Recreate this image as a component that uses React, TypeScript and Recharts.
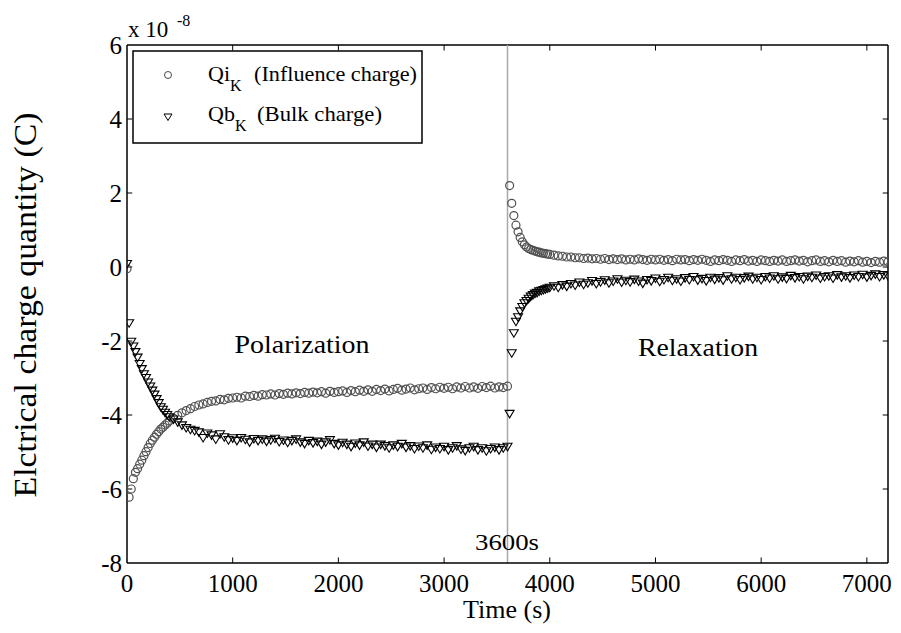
import React from "react";
import { ScatterChart, Scatter, XAxis, YAxis, ReferenceLine } from "recharts";

// polarization phase (0 - 3600 s)
const polTime = [
  0, 20, 40, 60, 80, 100, 120, 140, 160, 180,
  200, 220, 240, 260, 280, 300, 320, 340, 360, 380,
  400,
  440, 480, 520, 560, 600, 640, 680, 720, 760, 800,
  840, 880, 920, 960, 1000, 1040, 1080, 1120, 1160, 1200,
  1240, 1280, 1320, 1360, 1400, 1440, 1480, 1520, 1560, 1600,
  1640, 1680, 1720, 1760, 1800, 1840, 1880, 1920, 1960, 2000,
  2040, 2080, 2120, 2160, 2200, 2240, 2280, 2320, 2360, 2400,
  2440, 2480, 2520, 2560, 2600, 2640, 2680, 2720, 2760, 2800,
  2840, 2880, 2920, 2960, 3000, 3040, 3080, 3120, 3160, 3200,
  3240, 3280, 3320, 3360, 3400, 3440, 3480, 3520, 3560, 3600,
];
const qiPol = [
  -0.05, -6.22, -6.0, -5.72, -5.55, -5.45, -5.33, -5.22, -5.1, -4.99,
  -4.88, -4.77, -4.68, -4.6, -4.52, -4.45, -4.38, -4.33, -4.27, -4.22,
  -4.16,
  -4.09, -4.01, -3.94, -3.88, -3.83, -3.77, -3.73, -3.7, -3.66, -3.63,
  -3.62, -3.58, -3.59, -3.55, -3.54, -3.52, -3.54, -3.49, -3.5, -3.47,
  -3.49, -3.45, -3.46, -3.43, -3.46, -3.42, -3.44, -3.41, -3.43, -3.4,
  -3.42, -3.39, -3.41, -3.38, -3.4, -3.37, -3.41, -3.36, -3.39, -3.37,
  -3.35, -3.39, -3.34, -3.37, -3.33, -3.36, -3.32, -3.36, -3.31, -3.34,
  -3.3, -3.35, -3.31, -3.28, -3.33, -3.3, -3.27, -3.32, -3.29, -3.27,
  -3.31, -3.26, -3.29, -3.25, -3.28, -3.25, -3.29, -3.24, -3.27, -3.23,
  -3.27, -3.24, -3.28, -3.23, -3.26, -3.22, -3.27, -3.24, -3.26, -3.22,
];
const qbPol = [
  0.08, -1.52, -2.02, -2.15, -2.3, -2.45, -2.62, -2.76, -2.9, -3.0,
  -3.12, -3.23, -3.34, -3.45, -3.57, -3.68, -3.79, -3.86, -3.94, -4.0,
  -4.06,
  -4.12, -4.2, -4.28, -4.35, -4.4, -4.43, -4.47, -4.62, -4.5, -4.55,
  -4.66, -4.52, -4.6, -4.68, -4.63, -4.7, -4.62, -4.67, -4.74, -4.65,
  -4.7, -4.66, -4.72, -4.68, -4.64, -4.73, -4.69, -4.75, -4.7, -4.66,
  -4.74, -4.78, -4.7, -4.76, -4.72, -4.8, -4.74, -4.68, -4.78, -4.82,
  -4.75, -4.8, -4.86, -4.77, -4.82, -4.74, -4.85, -4.8, -4.88, -4.8,
  -4.84, -4.9, -4.82, -4.86, -4.78, -4.88, -4.84, -4.92, -4.85, -4.9,
  -4.82, -4.94, -4.88, -4.92, -4.86, -4.95, -4.9, -4.84, -4.93, -4.97,
  -4.9, -4.86, -4.95, -4.9, -4.98, -4.92, -4.88, -4.95, -4.9, -4.86,
];

// relaxation phase (3600 - 7200 s)
const relTime = [
  3620, 3640, 3660, 3680, 3700, 3720, 3740, 3760, 3780, 3800,
  3820, 3840, 3860, 3880, 3900, 3920, 3940, 3960, 3980, 4000,
  4040, 4080, 4120, 4160, 4200, 4240, 4280, 4320, 4360, 4400,
  4440, 4480, 4520, 4560, 4600, 4640, 4680, 4720, 4760, 4800,
  4840, 4880, 4920, 4960, 5000, 5040, 5080, 5120, 5160, 5200,
  5240, 5280, 5320, 5360, 5400, 5440, 5480, 5520, 5560, 5600,
  5640, 5680, 5720, 5760, 5800, 5840, 5880, 5920, 5960, 6000,
  6040, 6080, 6120, 6160, 6200, 6240, 6280, 6320, 6360, 6400,
  6440, 6480, 6520, 6560, 6600, 6640, 6680, 6720, 6760, 6800,
  6840, 6880, 6920, 6960, 7000, 7040, 7080, 7120, 7160, 7200,
];
const qiRel = [
  2.2, 1.72, 1.39, 1.13, 0.95, 0.8, 0.68, 0.6, 0.54, 0.5,
  0.47, 0.45, 0.43, 0.41, 0.4, 0.38, 0.37, 0.36, 0.35, 0.34,
  0.32, 0.3, 0.29, 0.27, 0.27, 0.25, 0.25, 0.23, 0.24, 0.22,
  0.23, 0.21, 0.23, 0.2, 0.22, 0.2, 0.22, 0.19, 0.21, 0.19,
  0.22, 0.2, 0.18, 0.21, 0.19, 0.21, 0.18, 0.2, 0.17, 0.21,
  0.19, 0.2, 0.17, 0.2, 0.18, 0.21, 0.18, 0.15, 0.19, 0.17,
  0.2, 0.18, 0.15, 0.19, 0.17, 0.2, 0.16, 0.18, 0.15, 0.19,
  0.17, 0.15, 0.18, 0.16, 0.19, 0.15, 0.17, 0.19, 0.16, 0.18,
  0.14, 0.17, 0.19, 0.15, 0.17, 0.14, 0.18, 0.15, 0.17, 0.13,
  0.16, 0.14, 0.17, 0.13, 0.15, 0.12, 0.15, 0.13, 0.16, 0.14,
];
const qbRel = [
  -3.97, -2.33, -1.79, -1.48, -1.36, -1.2, -1.08, -0.98, -0.92, -0.86,
  -0.8, -0.76, -0.72, -0.7, -0.66, -0.64, -0.62, -0.6, -0.58, -0.56,
  -0.52, -0.56, -0.49, -0.53, -0.46, -0.5, -0.42, -0.48, -0.44, -0.38,
  -0.46, -0.41, -0.36, -0.44, -0.39, -0.33, -0.42, -0.37, -0.41, -0.34,
  -0.39, -0.45, -0.35, -0.38, -0.31, -0.4, -0.35, -0.29, -0.37, -0.33,
  -0.39, -0.3, -0.35, -0.27, -0.36, -0.32, -0.38, -0.29, -0.34, -0.3,
  -0.36, -0.25, -0.33, -0.29, -0.35, -0.3, -0.26, -0.33, -0.29, -0.35,
  -0.27, -0.31, -0.25, -0.33, -0.28, -0.32, -0.24, -0.3, -0.27, -0.33,
  -0.26, -0.29, -0.23, -0.31, -0.27, -0.25, -0.31, -0.22, -0.28, -0.25,
  -0.3, -0.23, -0.27, -0.21, -0.28, -0.24, -0.2, -0.27, -0.22, -0.25,
];

const xTicks = [0, 1000, 2000, 3000, 4000, 5000, 6000, 7000];
const yTicks = [-8, -6, -4, -2, 0, 2, 4, 6];
const switchTime = 3600;

const qiData = [
  ...polTime.map((t, i) => ({ t, q: qiPol[i] })),
  ...relTime.map((t, i) => ({ t, q: qiRel[i] })),
];
const qbData = [
  ...polTime.map((t, i) => ({ t, q: qbPol[i] })),
  ...relTime.map((t, i) => ({ t, q: qbRel[i] })),
];

const W = 893;
const H = 625;
const serif = "'Liberation Serif', 'Times New Roman', serif";

const Circle = (props: any) => (
  <circle cx={props.cx} cy={props.cy} r={4} fill="none" stroke="#505050" strokeWidth={1.2} />
);

const Tri = (props: any) => {
  const { cx, cy } = props;
  return (
    <path
      d={`M${cx - 4.5},${cy - 3.5}L${cx + 4.5},${cy - 3.5}L${cx},${cy + 4}Z`}
      fill="none"
      stroke="#000"
      strokeWidth={1.1}
    />
  );
};

export default function App() {
  const tickStyle = { fontFamily: serif, fontSize: 25, fill: "#000" };
  return (
    <div style={{ position: "relative", width: W, height: H, background: "#fff" }}>
      <ScatterChart width={W} height={H} margin={{ top: 37, right: 13, bottom: 30, left: 0 }}>
        <XAxis
          type="number"
          dataKey="t"
          domain={[0, 7200]}
          ticks={xTicks}
          allowDataOverflow
          height={40}
          tickLine={false}
          tickSize={3}
          tickMargin={8}
          axisLine={{ stroke: "#000", strokeWidth: 1.5 }}
          tick={tickStyle}
        />
        <YAxis
          type="number"
          dataKey="q"
          domain={[-8, 6]}
          ticks={yTicks}
          allowDataOverflow
          width={119}
          tickLine={false}
          tickSize={3}
          tickMargin={2}
          axisLine={{ stroke: "#000", strokeWidth: 1.5 }}
          tick={tickStyle}
        />
        {/* box */}
        <ReferenceLine y={6} stroke="#000" strokeWidth={1.5} />
        <ReferenceLine x={7200} stroke="#000" strokeWidth={1.5} />
        {/* inward ticks */}
        {xTicks.filter((v) => v > 0).map((v) => (
          <ReferenceLine key={`xb${v}`} segment={[{ x: v, y: -8 }, { x: v, y: -7.85 }]} stroke="#000" />
        ))}
        {xTicks.filter((v) => v > 0).map((v) => (
          <ReferenceLine key={`xt${v}`} segment={[{ x: v, y: 6 }, { x: v, y: 5.85 }]} stroke="#000" />
        ))}
        {yTicks.filter((v) => v > -8 && v < 6).map((v) => (
          <ReferenceLine key={`yl${v}`} segment={[{ x: 0, y: v }, { x: 50, y: v }]} stroke="#000" />
        ))}
        {yTicks.filter((v) => v > -8 && v < 6).map((v) => (
          <ReferenceLine key={`yr${v}`} segment={[{ x: 7150, y: v }, { x: 7200, y: v }]} stroke="#000" />
        ))}
        <ReferenceLine x={switchTime} stroke="#a8a8a8" strokeWidth={1.5} />
        <Scatter data={qiData} shape={Circle} isAnimationActive={false} />
        <Scatter data={qbData} shape={Tri} isAnimationActive={false} />
      </ScatterChart>
      <svg
        width={W}
        height={H}
        style={{ position: "absolute", left: 0, top: 0, pointerEvents: "none" }}
        fontFamily={serif}
      >
        <text x={120} y={29} fontSize={23}>x 10</text>
        <text x={169} y={18} fontSize={16}>-8</text>
        <text
          transform="translate(17,297) rotate(-90)"
          textAnchor="middle"
          dominantBaseline="central"
          fontSize={31}
          textLength={385}
          lengthAdjust="spacingAndGlyphs"
        >
          Elctrical charge quantity (C)
        </text>
        <text x={499} y={610} textAnchor="middle" fontSize={26}>Time (s)</text>
        <text x={294} y={345} textAnchor="middle" fontSize={25} textLength={135} lengthAdjust="spacingAndGlyphs">
          Polarization
        </text>
        <text x={690} y={348} textAnchor="middle" fontSize={25} textLength={120} lengthAdjust="spacingAndGlyphs">
          Relaxation
        </text>
        <text x={499} y={542} textAnchor="middle" fontSize={24} textLength={64} lengthAdjust="spacingAndGlyphs">
          3600s
        </text>
        {/* legend */}
        <rect x={125} y={43} width={289} height={92} fill="#fff" stroke="#000" strokeWidth={1.5} />
        <circle cx={160} cy={67} r={3.5} fill="none" stroke="#4a4a4a" />
        <path d="M156,106L164,106L160,112.5Z" fill="none" stroke="#000" />
        <text x={200} y={73} fontSize={22}>
          Qi
          <tspan dy={10} fontSize={16}>K</tspan>
        </text>
        <text x={246} y={73} fontSize={22} textLength={163} lengthAdjust="spacingAndGlyphs">
          (Influence charge)
        </text>
        <text x={200} y={113} fontSize={22}>
          Qb
          <tspan dy={10} fontSize={16}>K</tspan>
        </text>
        <text x={249} y={113} fontSize={22} textLength={125} lengthAdjust="spacingAndGlyphs">
          (Bulk charge)
        </text>
      </svg>
    </div>
  );
}
